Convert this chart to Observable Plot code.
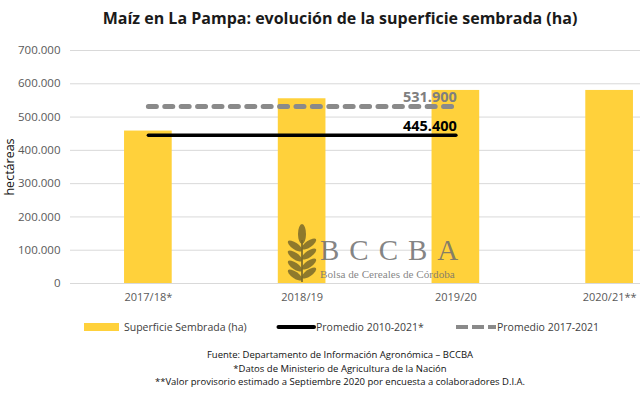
<!DOCTYPE html>
<html>
<head>
<meta charset="utf-8">
<script src="https://cdn.jsdelivr.net/npm/d3@7"></script>
<script src="https://cdn.jsdelivr.net/npm/@observablehq/plot@0.6"></script>
<style>
  html, body { margin: 0; padding: 0; background: #fff; }
  body { width: 640px; height: 395px; position: relative; overflow: hidden; font-family: "Open Sans", sans-serif; }
  #title { position: absolute; left: 20px; width: 640px; top: 7px; text-align: center; font-weight: bold; font-size: 16px; color: #1a1a1a; }
  #chart { position: absolute; left: 0; top: 0; }
  #legend { position: absolute; left: 0; top: 317px; width: 640px; height: 20px; font-size: 10.5px; color: #404040; }
  #legend .item { position: absolute; top: 0; display: flex; align-items: center; height: 20px; }
  #footer { position: absolute; left: 20px; width: 640px; top: 348px; text-align: center; font-size: 9.5px; line-height: 13.5px; color: #111; }
  #logo { position: absolute; left: 285px; top: 220px; width: 220px; height: 65px; pointer-events: none; }
</style>
</head>
<body>
<div id="chart"></div>
<div id="title"></div>
<div id="legend"></div>
<div id="footer"></div>
<script>
// ---- data ----
const seasons = ["2017/18*", "2018/19", "2019/20", "2020/21**"];
const sownArea = [458000, 555000, 580000, 580000];
const avgNames = ["Promedio 2010-2021*", "Promedio 2017-2021"];
const avgValues = [445400, 531900];
const avgFrom = "2017/18*";
const avgTo = "2019/20";
const yTicks = [0, 100000, 200000, 300000, 400000, 500000, 600000, 700000];
const barName = "Superficie Sembrada (ha)";
const yLabel = "hectáreas";
const titleText = "Maíz en La Pampa: evolución de la superficie sembrada (ha)";
const footerLines = [
  "Fuente: Departamento de Información Agronómica – BCCBA",
  "*Datos de Ministerio de Agricultura de la Nación",
  "**Valor provisorio estimado a Septiembre 2020 por encuesta a colaboradores D.I.A."
];

const yellow = "#FFD13B";
const gray = "#8a8a8a";

const fmt = d3.formatLocale({decimal: ",", thousands: ".", grouping: [3], currency: ["$", ""]}).format(",d");

const bars = seasons.map((s, i) => ({season: s, value: sownArea[i]}));
const avg1 = [avgFrom, avgTo].map(s => ({season: s, value: avgValues[0]}));
const avg2 = [avgFrom, avgTo].map(s => ({season: s, value: avgValues[1]}));

const chart = Plot.plot({
  width: 640,
  height: 310,
  marginTop: 50,
  marginBottom: 27,
  marginLeft: 70,
  marginRight: 0,
  style: {fontFamily: "Open Sans, sans-serif", fontSize: "11px", color: "#595959", background: "transparent"},
  x: {domain: seasons, range: [71, 686], paddingInner: 0.69, paddingOuter: 0.345, round: false},
  y: {domain: [0, 700000]},
  marks: [
    Plot.gridY(yTicks, {stroke: "#d9d9d9", strokeOpacity: 1, strokeWidth: 1}),
    Plot.barY(bars, {x: "season", y: "value", fill: yellow}),
    Plot.axisY({ticks: yTicks, tickSize: 0, tickPadding: 10, tickFormat: fmt, fontSize: 11.5, label: null}),
    Plot.axisY({ticks: [], tickSize: 0, label: yLabel, labelAnchor: "center", labelArrow: "none", labelOffset: 65, fontSize: 12.5, fill: "#111"}),
    Plot.axisX({tickSize: 0, tickPadding: 10, label: null, fontSize: 11}),
    Plot.lineY(avg2, {x: "season", y: "value", stroke: gray, strokeWidth: 5, strokeLinecap: "round", strokeDasharray: "8,8.4"}),
    Plot.lineY(avg1, {x: "season", y: "value", stroke: "#000", strokeWidth: 3.5, strokeLinecap: "round"}),
    Plot.text([avg2[1]], {x: "season", y: "value", text: d => fmt(d.value), textAnchor: "end", dx: 1, dy: -9, fill: "#7f7f7f", fontWeight: "bold", fontSize: 14.5}),
    Plot.text([avg1[1]], {x: "season", y: "value", text: d => fmt(d.value), textAnchor: "end", dx: 1, dy: -9, fill: "#000", fontWeight: "bold", fontSize: 14.5})
  ]
});
document.getElementById("chart").appendChild(chart);

document.getElementById("title").textContent = titleText;
document.getElementById("footer").innerHTML = footerLines.map(t => `<div>${t}</div>`).join("");

// legend
const legend = document.getElementById("legend");
legend.innerHTML = `
  <div class="item" style="left:84px"><svg width="36" height="8" style="margin-right:4px"><rect x="0" y="0" width="35" height="8" fill="${yellow}"/></svg><span>${barName}</span></div>
  <div class="item" style="left:276px"><svg width="40" height="8"><line x1="2.5" y1="4" x2="38" y2="4" stroke="#000" stroke-width="4" stroke-linecap="round"/></svg><span>${avgNames[0]}</span></div>
  <div class="item" style="left:455px"><svg width="42" height="8"><line x1="1" y1="4" x2="41" y2="4" stroke="${gray}" stroke-width="4" stroke-dasharray="12,4"/></svg><span>${avgNames[1]}</span></div>
`;

// watermark logo
const logo = document.createElement("div");
logo.id = "logo";
logo.innerHTML = `
<svg width="220" height="65">
  <g fill="#7a6a2a" fill-opacity="0.85">
    <ellipse cx="17" cy="14" rx="4" ry="10"/>
    ${[26, 36, 46, 55].map(y => `
      <ellipse cx="10" cy="${y}" rx="8.5" ry="3.3" transform="rotate(35 10 ${y})"/>
      <ellipse cx="24" cy="${y - 2}" rx="8.5" ry="3.3" transform="rotate(-35 24 ${y - 2})"/>`).join("")}
    <rect x="16" y="20" width="2" height="42"/>
  </g>
  <text x="35" y="40" font-family="Liberation Serif, DejaVu Serif, serif" font-size="29" fill="#6f6f6f" fill-opacity="0.85" letter-spacing="10">BCCBA</text>
  <text x="35" y="58" font-family="Liberation Serif, DejaVu Serif, serif" font-size="11.2" fill="#6f6f6f" fill-opacity="0.85">Bolsa de Cereales de Córdoba</text>
</svg>`;
document.body.appendChild(logo);
</script>
</body>
</html>
